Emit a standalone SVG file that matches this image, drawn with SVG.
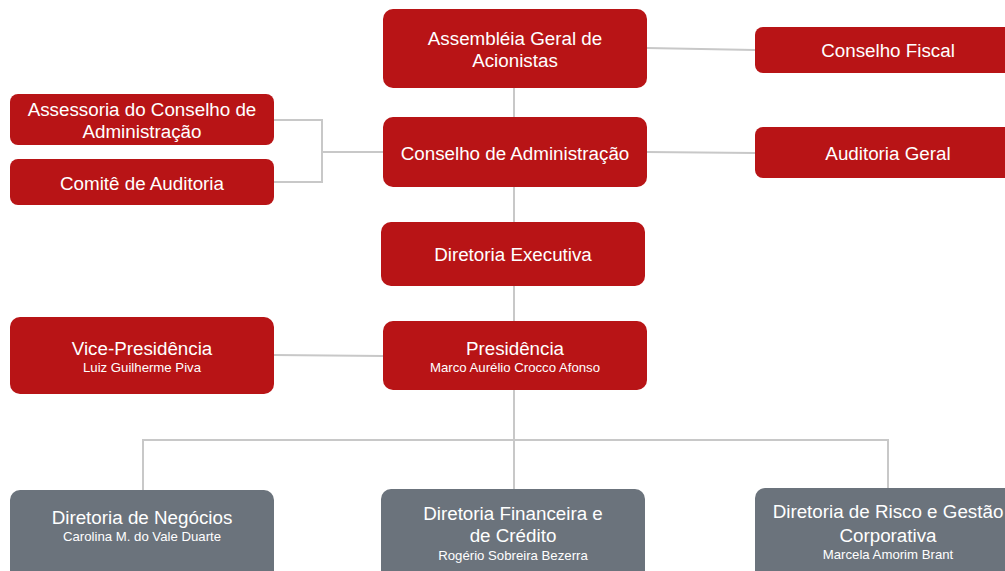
<svg xmlns="http://www.w3.org/2000/svg" width="1005" height="571" viewBox="0 0 1005 571">
<style>
.red{fill:#b81416}
.gray{fill:#6b737c}
.t{font-family:"Liberation Sans",Arial,sans-serif;font-size:18.8px;fill:#fff;text-anchor:middle}
.n{font-family:"Liberation Sans",Arial,sans-serif;font-size:13.2px;fill:#fff;text-anchor:middle}
.c{stroke:#c8c8c8;stroke-width:2;fill:none}
</style>
<rect width="1005" height="571" fill="#fff"/>
<g id="connectors">
<path class="c" d="M647 48 L755 50"/>
<path class="c" d="M514 88 V117"/>
<path class="c" d="M647 152 L755 153"/>
<path class="c" d="M274 120 H322 V182 H274 M322 152 H383"/>
<path class="c" d="M514 187 V222"/>
<path class="c" d="M514 286 V321"/>
<path class="c" d="M274 355 L383 356"/>
<path class="c" d="M514 390 V489 M143 490 V440 H888 V488"/>
</g>
<g id="assembleia"><rect class="red" x="383" y="9" width="264" height="79" rx="10"/><text class="t" x="515" y="45">Assembléia Geral de</text><text class="t" x="515" y="67">Acionistas</text></g>
<g id="conselho-fiscal"><rect class="red" x="755" y="27" width="266" height="46" rx="8"/><text class="t" x="888" y="57">Conselho Fiscal</text></g>
<g id="assessoria"><rect class="red" x="10" y="94" width="264" height="51" rx="8"/><text class="t" x="142" y="116">Assessoria do Conselho de</text><text class="t" x="142" y="138">Administração</text></g>
<g id="comite"><rect class="red" x="10" y="159" width="264" height="46" rx="8"/><text class="t" x="142" y="190">Comitê de Auditoria</text></g>
<g id="conselho-admin"><rect class="red" x="383" y="117" width="264" height="70" rx="10"/><text class="t" x="515" y="160">Conselho de Administração</text></g>
<g id="auditoria-geral"><rect class="red" x="755" y="127" width="266" height="51" rx="8"/><text class="t" x="888" y="160">Auditoria Geral</text></g>
<g id="diretoria-executiva"><rect class="red" x="381" y="222" width="264" height="64" rx="10"/><text class="t" x="513" y="261">Diretoria Executiva</text></g>
<g id="vice"><rect class="red" x="10" y="317" width="264" height="77" rx="10"/><text class="t" x="142" y="355">Vice-Presidência</text><text class="n" x="142" y="372">Luiz Guilherme Piva</text></g>
<g id="presidencia"><rect class="red" x="383" y="321" width="264" height="69" rx="10"/><text class="t" x="515" y="355">Presidência</text><text class="n" x="515" y="372">Marco Aurélio Crocco Afonso</text></g>
<g id="negocios"><rect class="gray" x="10" y="490" width="264" height="100" rx="10"/><text class="t" x="142" y="524">Diretoria de Negócios</text><text class="n" x="142" y="541">Carolina M. do Vale Duarte</text></g>
<g id="financeira"><rect class="gray" x="381" y="489" width="264" height="100" rx="10"/><text class="t" x="513" y="520">Diretoria Financeira e</text><text class="t" x="513" y="542">de Crédito</text><text class="n" x="513" y="560">Rogério Sobreira Bezerra</text></g>
<g id="risco"><rect class="gray" x="755" y="488" width="266" height="100" rx="10"/><text class="t" x="888" y="518">Diretoria de Risco e Gestão</text><text class="t" x="888" y="542">Corporativa</text><text class="n" x="888" y="559">Marcela Amorim Brant</text></g>
</svg>
